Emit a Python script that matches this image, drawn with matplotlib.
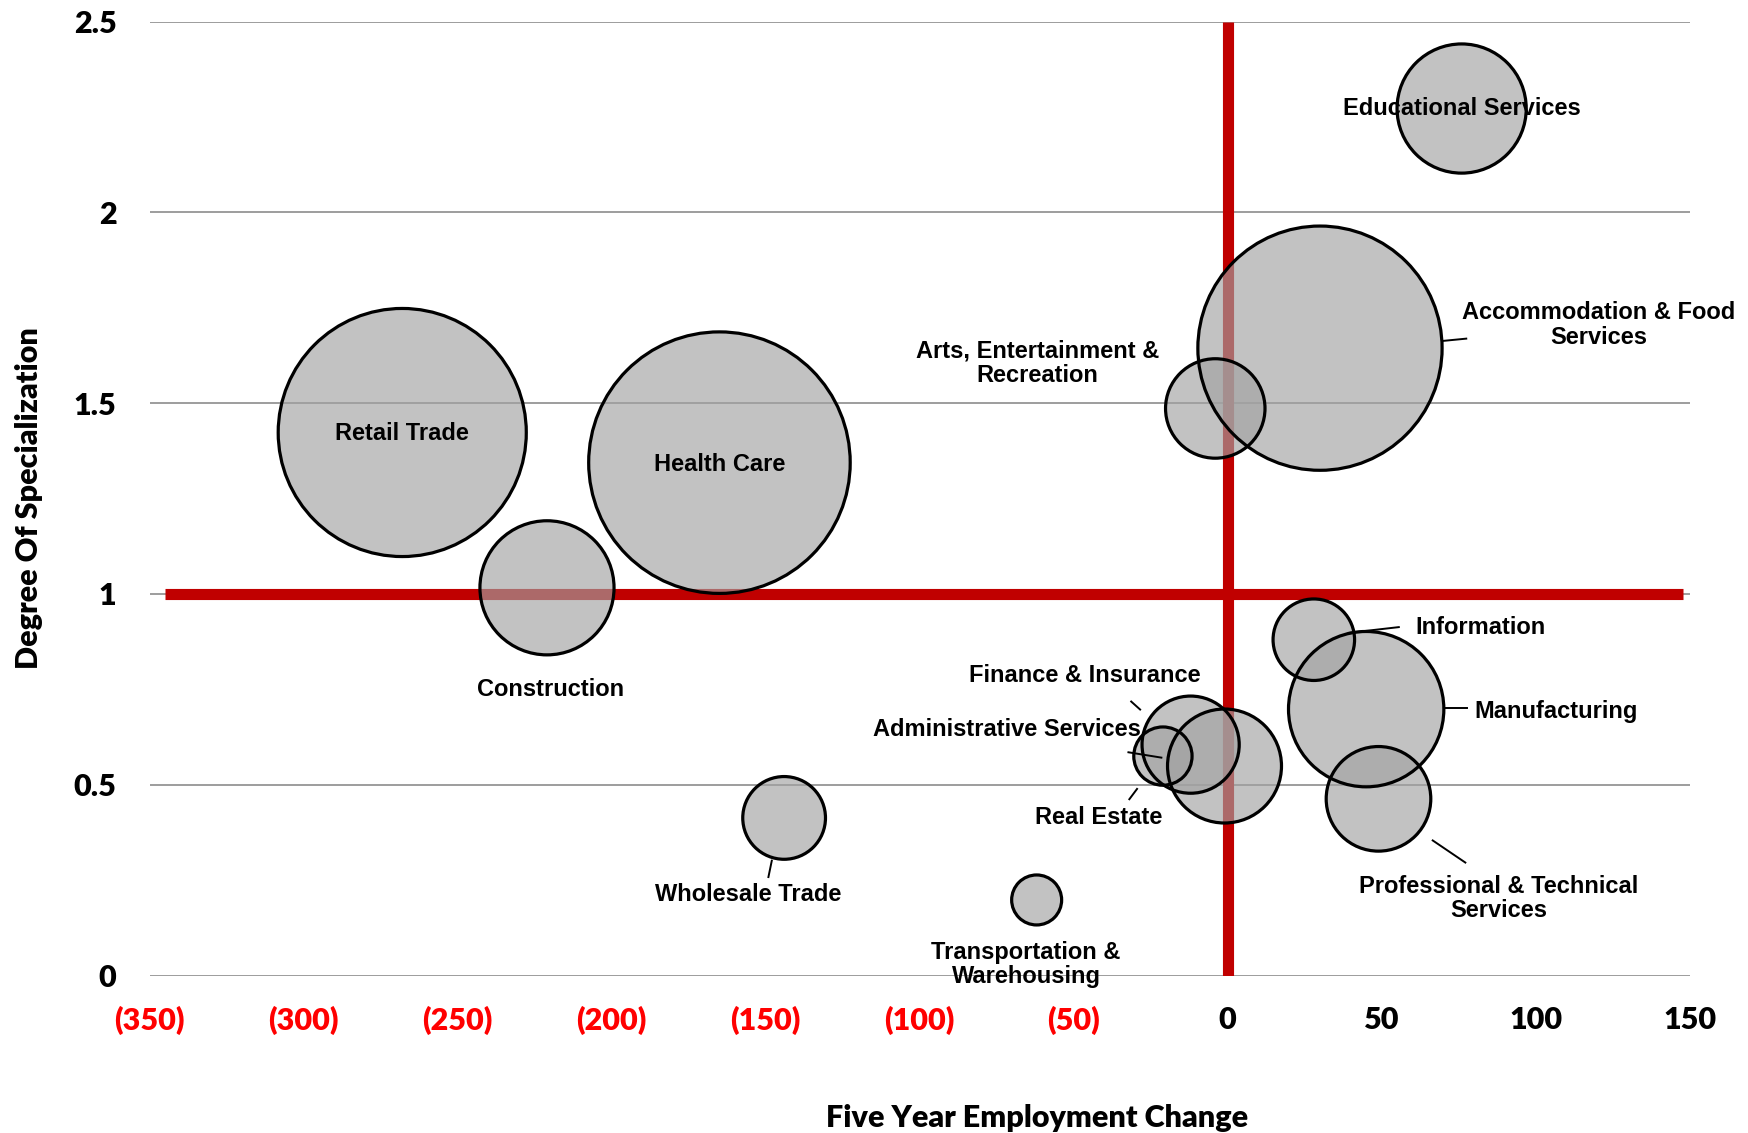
import matplotlib
matplotlib.use("Agg")
import matplotlib.pyplot as plt
import numpy as np

# ---------------- data ----------------
industries = ["Retail Trade", "Health Care", "Construction", "Wholesale Trade",
              "Transportation &\nWarehousing", "Educational Services",
              "Accommodation & Food\nServices", "Arts, Entertainment &\nRecreation",
              "Information", "Manufacturing", "Professional & Technical\nServices",
              "Finance & Insurance", "Real Estate", "Administrative Services"]
employment_change = [-268, -165, -221, -144, -62, 76, 30, -4, 28, 45, 49, -12, -1, -21]
specialization = [1.423, 1.344, 1.016, 0.413, 0.198, 2.272, 1.644, 1.486, 0.880,
                  0.698, 0.463, 0.605, 0.549, 0.575]
employment = [1232, 1369, 360, 137, 50, 334, 1194, 198, 133, 483, 219, 189, 260, 68]

x_ticks = [-350, -300, -250, -200, -150, -100, -50, 0, 50, 100, 150]
x_tick_labels = ["(350)", "(300)", "(250)", "(200)", "(150)", "(100)", "(50)",
                 "0", "50", "100", "150"]
y_ticks = [0, 0.5, 1, 1.5, 2, 2.5]
y_tick_labels = ["0", "0.5", "1", "1.5", "2", "2.5"]

# ---------------- layout (label positions / leader lines, data coords) ----------------
label_pos = {
    "Retail Trade": (-268, 1.42),
    "Health Care": (-165, 1.34),
    "Construction": (-220, 0.749),
    "Wholesale Trade": (-155.7, 0.211),
    "Transportation &\nWarehousing": (-65.4, 0.029),
    "Educational Services": (76, 2.272),
    "Accommodation & Food\nServices": (120.6, 1.704),
    "Arts, Entertainment &\nRecreation": (-61.7, 1.604),
    "Information": (82.2, 0.913),
    "Manufacturing": (106.5, 0.691),
    "Professional & Technical\nServices": (88, 0.202),
    "Finance & Insurance": (-46.5, 0.787),
    "Real Estate": (-41.8, 0.413),
    "Administrative Services": (-71.5, 0.644),
}
leaders = [
    ((-149.1, 0.258), (-148.0, 0.301)),
    ((69.9, 1.663), (77.5, 1.669)),
    ((39.3, 0.898), (55.6, 0.913)),
    ((70.6, 0.700), (77.9, 0.700)),
    ((66.6, 0.354), (77.2, 0.296)),
    ((-31.3, 0.718), (-28.4, 0.697)),
    ((-32.2, 0.585), (-21.5, 0.571)),
    ((-31.9, 0.462), (-29.4, 0.489)),
]

# ---------------- figure ----------------
W, H, DPI = 1749, 1133, 100
fig = plt.figure(figsize=(W / DPI, H / DPI), dpi=DPI)
ax = fig.add_axes([0.0856, 0.139, 0.966 - 0.0856, 0.981 - 0.139])
ax.set_xlim(-350, 150)
ax.set_ylim(0, 2.5)

tick_font = dict(family="Lato", weight="heavy", size=22)
lab_font = dict(family="Liberation Sans", weight="bold", size=17)

for yv in y_ticks:
    ax.axhline(yv, color="#8c8c8c", lw=1.2, zorder=1)

ax.plot([-345, 148], [1, 1], color="#C00000", lw=8, solid_capstyle="butt", zorder=2)
ax.plot([0, 0], [0, 2.5], color="#C00000", lw=8, solid_capstyle="butt", zorder=2)

s = np.array(employment) * 25.9
ax.scatter(employment_change, specialization, s=s, facecolor="#a2a2a2", alpha=0.65,
           edgecolor="none", zorder=3)
ax.scatter(employment_change, specialization, s=s, facecolor="none",
           edgecolor="black", linewidth=2.3, zorder=4)

for name in industries:
    px, py = label_pos[name]
    ax.text(px, py, name, ha="center", va="center", zorder=5, linespacing=1.1,
            **lab_font)
for (a, b) in leaders:
    ax.plot([a[0], b[0]], [a[1], b[1]], color="black", lw=1.4, zorder=5)

for sp in ax.spines.values():
    sp.set_visible(False)
ax.tick_params(length=0)
ax.set_xticks(x_ticks)
ax.set_xticklabels(x_tick_labels, fontdict=tick_font)
for t, v in zip(ax.get_xticklabels(), x_ticks):
    t.set_color("#FF0000" if v < 0 else "black")
ax.set_yticks(y_ticks)
ax.set_yticklabels(y_tick_labels, fontdict=tick_font)
ax.tick_params(axis="x", pad=22)
ax.tick_params(axis="y", pad=24)

ax.set_xlabel("Five Year Employment Change", fontdict=dict(family="Lato", weight="heavy", size=22))
ax.xaxis.label.set_va("center")
ax.xaxis.set_label_coords(0.576, -0.149)
ax.set_ylabel("Degree Of Specialization", fontdict=dict(family="Lato", weight="heavy", size=22),
              labelpad=22)

fig.savefig("out.png", dpi=DPI)
